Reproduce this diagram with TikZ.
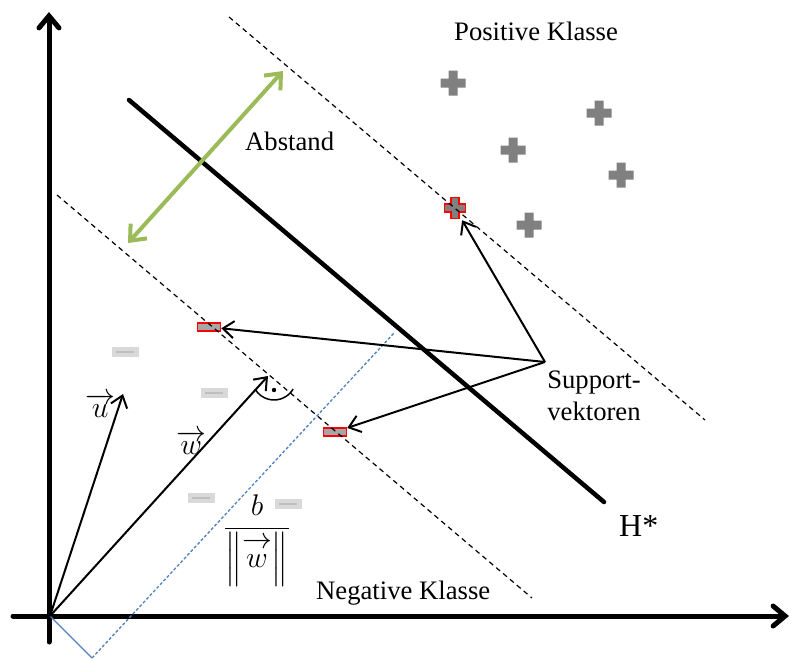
\documentclass[tikz,border=0pt]{standalone}
\usepackage{amsmath}
\usepackage{fontspec}
\setmainfont{Liberation Serif}
\usetikzlibrary{arrows.meta, positioning}
\definecolor{abstandgreen}{HTML}{9BBB59}
\definecolor{normalblue}{HTML}{4F81BD}
\definecolor{minusgray}{HTML}{D9D9D9}

\begin{document}
\begin{tikzpicture}[
    x=1pt, y=-1pt,
    label/.style={inner sep=0pt, font=\fontsize{26.67}{32}\selectfont},
    mathlabel/.style={inner sep=0pt, font=\fontsize{24.88}{30}\selectfont, scale=1.2},
    axis/.style={line width=5pt, line cap=round, -{Straight Barb[length=12pt, width=20pt, line cap=round]}},
    hyper/.style={line width=4.5pt, line cap=round},
    margin/.style={dashed, line width=1.2pt, dash pattern=on 5pt off 4pt},
    arrow/.style={line width=2pt, -{Straight Barb[length=11pt, width=17pt]}},
    gap/.style={line width=4pt, abstandgreen, {Straight Barb[length=13pt, width=22pt]}-{Straight Barb[length=13pt, width=22pt]}},
    plusmark/.style={minimum size=26pt, inner sep=0pt, path picture={
        \fill[gray, shift={(path picture bounding box.center)}] (-12.5,-4.5) rectangle (12.5,4.5) (-4.5,-12.5) rectangle (4.5,12.5);}},
    supplus/.style={minimum size=24pt, inner sep=0pt, path picture={
        \filldraw[fill=gray, draw=red, line width=1.6pt, shift={(path picture bounding box.center)}]
        (-10.5,-3.8) -- (-3.8,-3.8) -- (-3.8,-10.5) -- (3.8,-10.5) -- (3.8,-3.8) -- (10.5,-3.8) -- (10.5,3.8)
        -- (3.8,3.8) -- (3.8,10.5) -- (-3.8,10.5) -- (-3.8,3.8) -- (-10.5,3.8) -- cycle;}},
    minusmark/.style={minimum width=27pt, minimum height=10pt, inner sep=0pt, fill=minusgray, path picture={
        \draw[line width=2pt, black!25] ([xshift=-9pt]path picture bounding box.center) -- ([xshift=9pt]path picture bounding box.center);}},
    supminus/.style={minimum width=23pt, minimum height=8pt, inner sep=0pt, fill=black!35, draw=red, line width=1.5pt}
]
\useasboundingbox (0,0) rectangle (792,659);

% Points
\coordinate (O) at (50,616);
\coordinate (ytop) at (49,12);
\coordinate (ybot) at (49,642);
\coordinate (xleft) at (13,616);
\coordinate (xright) at (789,616);
\coordinate (h1) at (129,100);
\coordinate (h2) at (604,502);
\coordinate (m1) at (229,17);
\coordinate (m2) at (705,420);
\coordinate (n1) at (57,195);
\coordinate (n2) at (532,598);
\coordinate (g1) at (128,243);
\coordinate (g2) at (283,71);
\coordinate (utip) at (123,394);
\coordinate (wtip) at (268,376);
\coordinate (bfoot) at (92,658);
\coordinate (btop) at (394,333);
\coordinate (sv) at (545,362);

% Classes
\node[plusmark] (p1) at (453,83) {};
\node[plusmark] (p2) at (599,113) {};
\node[plusmark] (p3) at (513,150) {};
\node[plusmark] (p4) at (621,175) {};
\node[plusmark] (p5) at (529,225) {};
\node[minusmark] (q1) at (125,352) {};
\node[minusmark] (q2) at (214,393) {};
\node[minusmark] (q3) at (201,498) {};
\node[minusmark] (q4) at (288,504) {};

% Support vectors
\node[supplus] (sp) at (455,208) {};
\node[supminus] (sm1) at (209,327) {};
\node[supminus] (sm2) at (335,432) {};

% Axes
\draw[axis] (ybot) -- (ytop);
\draw[axis] (xleft) -- (xright);

% Hyperplane and margins
\draw[hyper] (h1) -- (h2);
\draw[margin] (m1) -- (m2);
\draw[margin] (n1) -- (n2);
\draw[gap] (g1) -- (g2);

% Offset
\draw[normalblue, line width=1.3pt] (O) -- (bfoot);
\draw[normalblue, line width=1.3pt, dash pattern=on 3pt off 2pt] (bfoot) -- (btop);

% Vectors
\draw[arrow] (O) -- (utip);
\draw[arrow] (O) -- (wtip);
\draw[line width=1.5pt] (255,389) arc[start angle=150, end angle=30, radius=22];
\fill (274,390) circle (2.2pt);

% Arrows to support vectors
\draw[arrow] (sv) -- (sp);
\draw[arrow] (sv) -- (sm1);
\draw[arrow] (sv) -- (sm2);

% Labels
\node[label, anchor=base west] (pos) at (454,40) {Positive Klasse};
\node[label, anchor=base west] (neg) at (316,599) {Negative Klasse};
\node[label, anchor=base west] (abst) at (245,150) {Abstand};
\node[label, anchor=base west, font=\fontsize{32}{36}\selectfont] (hstar) at (619,536) {H*};
\node[label, align=left] (svtext) at (594,396) {Support-\\vektoren};
\node[mathlabel, anchor=base west] (ulab) at (85,417) {$\overrightarrow{u}$};
\node[mathlabel, anchor=base west] (wlab) at (176,454) {$\overrightarrow{w}$};
\node[mathlabel, anchor=base] (frac) at (257,536) {$\dfrac{b}{\left\|\overset{\textstyle\rightarrow}{w}\right\|}$};

\end{tikzpicture}
\end{document}
